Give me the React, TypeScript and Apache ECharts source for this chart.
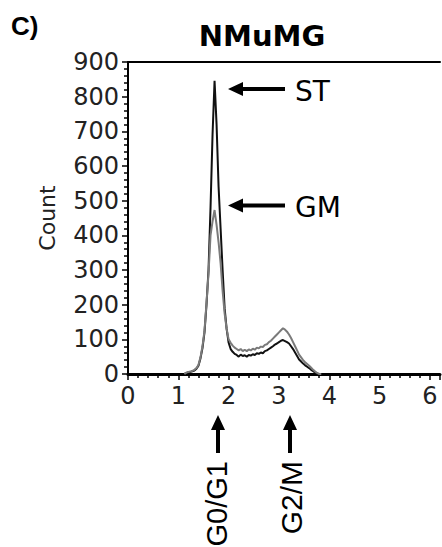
import React, { useEffect, useRef } from 'react';
import * as echarts from 'echarts';

const FONT = '"Liberation Sans", Arial, Helvetica, sans-serif';
const WIDE = '"DejaVu Sans", "Liberation Sans", Arial, sans-serif';

const channels = [1.12, 1.16, 1.20, 1.24, 1.28, 1.32, 1.36, 1.40, 1.44, 1.48, 1.52, 1.56, 1.60, 1.64, 1.68, 1.72, 1.76, 1.80, 1.84, 1.88, 1.92, 1.96, 2.00, 2.04, 2.08, 2.12, 2.16, 2.20, 2.24, 2.28, 2.32, 2.36, 2.40, 2.44, 2.48, 2.52, 2.56, 2.60, 2.64, 2.68, 2.72, 2.76, 2.80, 2.84, 2.88, 2.92, 2.96, 3.00, 3.04, 3.08, 3.12, 3.16, 3.20, 3.24, 3.28, 3.32, 3.36, 3.40, 3.44, 3.48, 3.52, 3.56, 3.60, 3.64, 3.68, 3.72, 3.76, 3.80, 3.84];

const stCounts = [0, 3, 5, 6, 8, 10, 15, 24, 45, 75, 120, 200, 300, 480, 690, 846, 720, 540, 420, 300, 190, 130, 90, 72, 64, 58, 55, 50, 56, 52, 54, 50, 55, 53, 57, 55, 60, 58, 62, 60, 66, 68, 72, 76, 80, 85, 88, 92, 96, 98, 95, 92, 88, 80, 72, 62, 52, 42, 36, 30, 25, 21, 17, 12, 8, 4, 1, 0, 0];

const gmCounts = [0, 4, 6, 7, 9, 12, 17, 26, 48, 80, 125, 205, 290, 400, 440, 473, 430, 380, 320, 240, 175, 130, 100, 90, 82, 76, 72, 68, 72, 66, 70, 66, 71, 68, 73, 70, 76, 74, 79, 78, 84, 86, 92, 96, 102, 108, 114, 120, 126, 132, 128, 122, 114, 104, 92, 80, 68, 56, 48, 40, 34, 29, 24, 18, 12, 7, 3, 0, 0];

const yTicks = { min: 0, max: 900, interval: 100 };
const xTicks = { min: 0, max: 6.2, interval: 1 };

const pairs = (ys: number[]) => channels.map((x, i) => [x, ys[i]]);

function leftArrow(tipX: number, y: number, tailX: number) {
  return {
    type: 'group',
    children: [
      { type: 'polygon', shape: { points: [[tipX, y], [tipX + 15, y - 7], [tipX + 15, y + 7]] }, style: { fill: '#000' } },
      { type: 'rect', shape: { x: tipX + 13, y: y - 2, width: tailX - tipX - 13, height: 4 }, style: { fill: '#000' } },
    ],
  };
}

function upArrow(cx: number, tipY: number, tailY: number) {
  return {
    type: 'group',
    children: [
      { type: 'polygon', shape: { points: [[cx, tipY], [cx - 7, tipY + 15], [cx + 7, tipY + 15]] }, style: { fill: '#000' } },
      { type: 'rect', shape: { x: cx - 2, y: tipY + 13, width: 4, height: tailY - tipY - 13 }, style: { fill: '#000' } },
    ],
  };
}

export default function App() {
  const ref = useRef<HTMLDivElement>(null);
  useEffect(() => {
    const chart = echarts.init(ref.current!, null, { renderer: 'svg' });
    const option: any = {
      animation: false,
      backgroundColor: '#fff',
      title: {
        text: 'NMuMG',
        left: 257,
        top: 16,
        textAlign: 'center',
        textStyle: { fontFamily: WIDE, fontWeight: 'bold', fontSize: 29, color: '#000' },
      },
      grid: { left: 128, right: 2, top: 62, bottom: 173, outerBoundsMode: 'none' },
      xAxis: [
        {
          type: 'value',
          min: xTicks.min,
          max: xTicks.max,
          interval: xTicks.interval,
          splitLine: { show: false },
          axisLine: { show: true, onZero: false, lineStyle: { color: '#000', width: 3 } },
          axisTick: { show: true, length: 6, lineStyle: { color: '#000', width: 1.5 } },
          minorTick: { show: true, splitNumber: 5, length: 4, lineStyle: { color: '#000', width: 1.5 } },
          axisLabel: {
            margin: 10,
            fontSize: 24,
            fontFamily: WIDE,
            color: '#222',
            formatter: (v: number) => (Number.isInteger(v) ? String(v) : ''),
          },
        },
        {
          type: 'value',
          position: 'top',
          min: xTicks.min,
          max: xTicks.max,
          splitLine: { show: false },
          axisLine: { show: true, onZero: false, lineStyle: { color: '#000', width: 2 } },
          axisTick: { show: false },
          axisLabel: { show: false },
        },
      ],
      yAxis: {
        type: 'value',
        min: yTicks.min,
        max: yTicks.max,
        interval: yTicks.interval,
        name: 'Count',
        nameLocation: 'middle',
        nameGap: 70,
        nameTextStyle: { fontSize: 22, fontFamily: WIDE, color: '#222' },
        splitLine: { show: false },
        axisLine: { show: true, onZero: false, lineStyle: { color: '#000', width: 2 } },
        axisTick: { show: true, length: 6, lineStyle: { color: '#000', width: 1.5 } },
        minorTick: { show: true, splitNumber: 5, length: 4, lineStyle: { color: '#000', width: 1.5 } },
        axisLabel: { margin: 9, fontSize: 24, fontFamily: WIDE, color: '#222' },
      },
      series: [
        {
          name: 'ST',
          type: 'line',
          data: pairs(stCounts),
          showSymbol: false,
          lineStyle: { color: '#111', width: 2 },
          z: 2,
        },
        {
          name: 'GM',
          type: 'line',
          data: pairs(gmCounts),
          showSymbol: false,
          lineStyle: { color: '#7a7a7a', width: 2 },
          z: 3,
        },
      ],
      graphic: [
        { type: 'text', x: 11, y: 26, style: { text: 'C)', fontSize: 26, fontWeight: 'bold', fontFamily: FONT, fill: '#000', verticalAlign: 'middle' } },
        leftArrow(228, 89, 285),
        leftArrow(228, 205.5, 285),
        { type: 'text', x: 295, y: 91, style: { text: 'ST', fontSize: 28, fontFamily: WIDE, fill: '#000', verticalAlign: 'middle' } },
        { type: 'text', x: 295, y: 207, style: { text: 'GM', fontSize: 28, fontFamily: WIDE, fill: '#000', verticalAlign: 'middle' } },
        upArrow(218, 415, 453),
        upArrow(290, 415, 453),
        { type: 'text', x: 217, y: 461, rotation: Math.PI / 2, style: { text: 'G0/G1', fontSize: 29, fontFamily: FONT, fill: '#000', align: 'right', verticalAlign: 'middle' } },
        { type: 'text', x: 291, y: 461, rotation: Math.PI / 2, style: { text: 'G2/M', fontSize: 30, fontFamily: FONT, fill: '#000', align: 'right', verticalAlign: 'middle' } },
      ],
    };
    chart.setOption(option);
    return () => chart.dispose();
  }, []);
  return <div ref={ref} style={{ position: 'fixed', left: 0, top: 0, width: 442, height: 547, background: '#fff' }} />;
}
